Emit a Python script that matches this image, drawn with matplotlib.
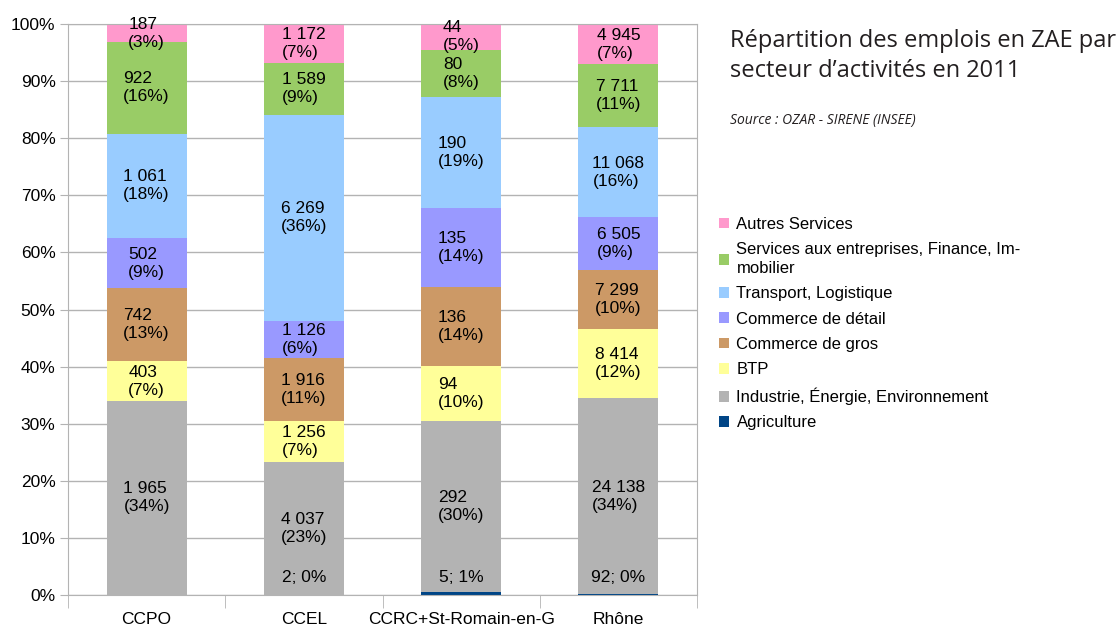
import matplotlib.pyplot as plt
import numpy as np

# ------------------------------------------------------------------ données

territoires = ["CCPO", "CCEL", "CCRC+St-Romain-en-G", "Rhône"]
secteurs = ["Agriculture", "Industrie, Énergie, Environnement", "BTP",
            "Commerce de gros", "Commerce de détail", "Transport, Logistique",
            "Services aux entreprises, Finance, Im-\nmobilier", "Autres Services"]
couleurs = ["#004586", "#b3b3b3", "#ffff99", "#cc9966", "#9999ff",
            "#99ccff", "#99cc66", "#ff99cc"]

# emplois par secteur (même ordre que secteurs), un tableau par territoire
agriculture = [0, 2, 5, 92]
industrie = [1965, 4037, 292, 24138]
btp = [403, 1256, 94, 8414]
commerce_gros = [742, 1916, 136, 7299]
commerce_detail = [502, 1126, 135, 6505]
transport = [1061, 6269, 190, 11068]
services_entreprises = [922, 1589, 80, 7711]
autres_services = [187, 1172, 44, 4945]

emplois = np.array([agriculture, industrie, btp, commerce_gros,
                    commerce_detail, transport, services_entreprises,
                    autres_services], dtype=float)


def fmt(v):
    return f"{int(v):,}".replace(",", " ")


# ------------------------------------------------------------------ figure

plt.rcParams["font.family"] = ["Liberation Sans", "DejaVu Sans"]
fig = plt.figure(figsize=(11.2, 6.26), dpi=100)
ax = fig.add_axes([68 / 1120, 1 - 595 / 626, 629 / 1120, 571 / 626])

totaux = emplois.sum(axis=0)
parts = emplois / totaux * 100
x = np.arange(len(territoires))
bas = np.zeros(len(territoires))
handles = []
for i, (nom, col) in enumerate(zip(secteurs, couleurs)):
    h = ax.bar(x, parts[i], 0.51, bottom=bas, color=col, label=nom,
               lw=0, zorder=2)
    handles.append(h)
    for j in range(len(territoires)):
        v = emplois[i, j]
        if v == 0:
            continue
        pct = round(parts[i, j])
        if i == 0:
            # étiquette agriculture : segment trop fin, posée juste au-dessus
            ax.text(x[j], 3.0, f"{fmt(v)}; {pct}%", ha="center", va="center",
                    fontsize=12.5, color="black", zorder=3)
        else:
            ax.text(x[j], bas[j] + parts[i, j] / 2, f"{fmt(v)}\n({pct}%)",
                    ha="center", va="center", multialignment="left",
                    fontsize=12.5, color="black", linespacing=1.25, zorder=3)
    bas += parts[i]

ax.set_xlim(-0.5, len(territoires) - 0.5)
ax.set_ylim(0, 100)
ax.set_yticks(np.arange(0, 101, 10))
ax.set_yticklabels([f"{t}%" for t in range(0, 101, 10)])
ax.set_xticks(x)
ax.set_xticklabels(territoires)
ax.set_xticks(np.arange(-0.5, len(territoires), 1), minor=True)
ax.tick_params(axis="x", which="major", length=0, pad=12, labelsize=12.5)
ax.tick_params(axis="x", which="minor", length=9, color="#b3b3b3")
ax.tick_params(axis="y", length=6, color="#b3b3b3", labelsize=12.5, pad=3)
ax.grid(axis="y", color="#b3b3b3", lw=1, zorder=0)
for s in ax.spines.values():
    s.set_color("#b3b3b3")

leg = fig.legend(handles[::-1], secteurs[::-1], loc="upper left",
                 bbox_to_anchor=(719 / 1120, 1 - 217 / 626), frameon=False,
                 fontsize=12, handlelength=0.6, handleheight=0.6,
                 handletextpad=0.45, labelspacing=0.62, borderaxespad=0,
                 borderpad=0)
for t in leg.get_texts():
    t.set_linespacing(1.3)

fig.text(730 / 1120, 1 - 29 / 626,
         "Répartition des emplois en ZAE par\nsecteur d’activités en 2011",
         ha="left", va="top", fontsize=17, family="Open Sans",
         color="#231f20", linespacing=1.35)
fig.text(730 / 1120, 1 - 120 / 626, "Source : OZAR - SIRENE (INSEE)",
         ha="left", va="center", fontsize=10, family="Open Sans",
         style="italic", color="#231f20")

fig.savefig("out.png", dpi=100)
